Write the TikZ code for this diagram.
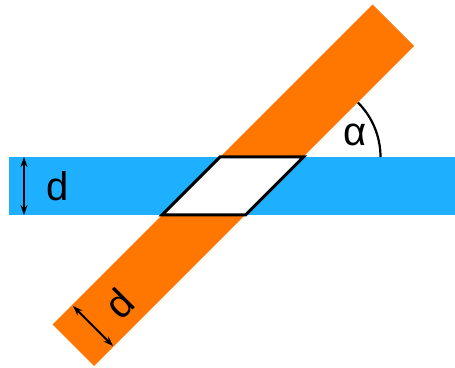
\documentclass[tikz,border=0pt]{standalone}
\usepackage{fontspec}
\setmainfont{Liberation Sans}
\usetikzlibrary{arrows.meta}
\definecolor{stripblue}{RGB}{30,176,255}
\definecolor{striporange}{RGB}{255,119,0}
\begin{document}
\begin{tikzpicture}[
  x=1pt, y=1pt,
  hole/.style={fill=white, draw=black, line width=3pt, line join=miter},
  dimen/.style={{Stealth[length=10pt,width=7pt]}-{Stealth[length=10pt,width=7pt]}, line width=2pt},
  lbl/.style={font=\fontsize{40}{44}\selectfont, inner sep=0pt},
]
  \useasboundingbox (0,0) rectangle (455,367);

  % orange strip at 45 degrees
  \fill[striporange] (52.5,42.5) -- (94,1) -- (414,321) -- (372.5,362.5) -- cycle;

  % blue strip
  \fill[stripblue] (9,152) rectangle (455,210);

  % crossing region
  \coordinate (tl) at (220,210);
  \coordinate (tr) at (303.5,210);
  \coordinate (br) at (245.5,152);
  \coordinate (bl) at (162,152);
  \draw[hole] (tl) -- (tr) -- (br) -- (bl) -- cycle;

  % width of blue strip
  \coordinate (bt) at (24,210);
  \coordinate (bb) at (24,152);
  \draw[dimen] (bt) -- (bb);
  \node[lbl] (dblue) at (58,181) {d};

  % width of orange strip
  \coordinate (ot) at (73,61);
  \coordinate (ob) at (113,21);
  \draw[dimen] (ot) -- (ob);
  \node[lbl, rotate=45] (dorange) at (119,63) {d};

  % angle
  \draw[line width=2.2pt] ([shift={(0:77)}]tr) arc[start angle=0, end angle=45, radius=77];
  \node[lbl] (alpha) at (355,232) {α};
\end{tikzpicture}
\end{document}
